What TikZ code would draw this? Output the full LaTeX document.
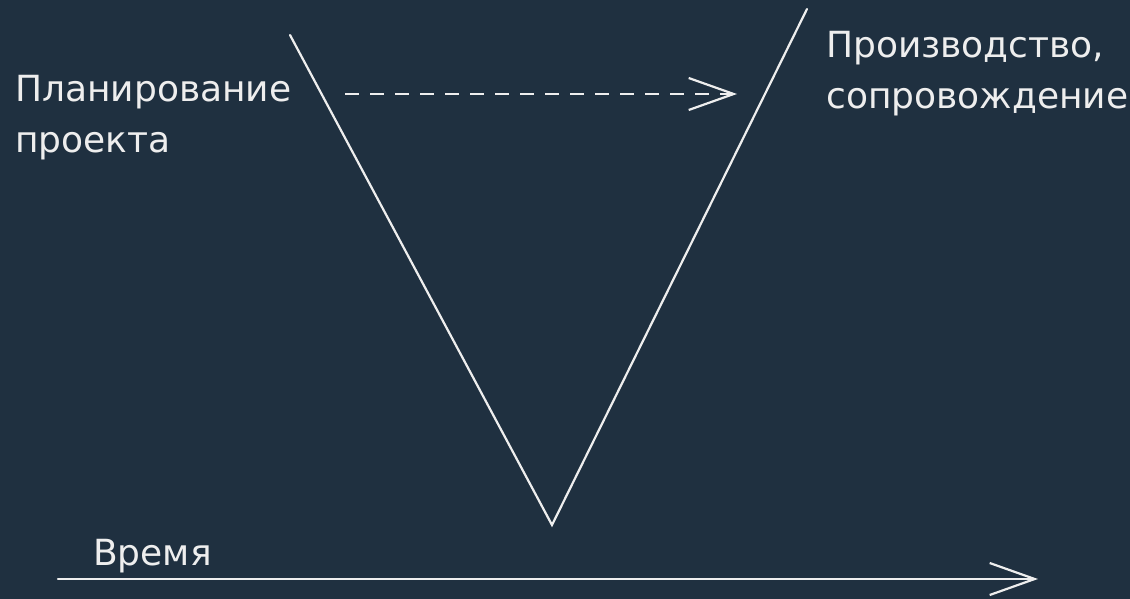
\documentclass[tikz,border=0pt]{standalone}
\usepackage{fontspec}
\setmainfont{DejaVu Sans}
\usetikzlibrary{arrows.meta}
\definecolor{bgcol}{RGB}{31,48,64}
\definecolor{ink}{RGB}{238,238,238}
\tikzset{
  label/.style={text=ink, inner sep=0pt, anchor=base west, align=left, font=\fontsize{36}{51}\selectfont},
  stroke/.style={draw=ink, line width=2.2pt, line cap=round},
  barb/.style={-{Straight Barb[length=45pt,width=32pt,line width=2.2pt]}},
}
\begin{document}
\begin{tikzpicture}[x=1pt,y=-1pt]
\fill[bgcol] (0,0) rectangle (1130,599);
\useasboundingbox (0,0) rectangle (1130,599);
% text (base anchor = baseline of the last line)
\node[label] (plan) at (15,153) {Планирование\\проекта};
\node[label] (prod) at (826,109) {Производство,\\сопровождение};
\node[label] (time) at (93,565) {Время};
% V
\coordinate (vtl) at (290,35);
\coordinate (vb) at (552,525);
\coordinate (vtr) at (807,9);
\draw[stroke] (vtl) -- (vb) -- (vtr);
% dashed arrow
\coordinate (ds) at (345,94);
\coordinate (de) at (737,94);
\draw[stroke, barb, dash pattern=on 14pt off 11pt, line cap=butt] (ds) -- (de);
% time axis
\coordinate (ts) at (58,579);
\coordinate (te) at (1038,579);
\draw[stroke, barb] (ts) -- (te);
\end{tikzpicture}
\end{document}
